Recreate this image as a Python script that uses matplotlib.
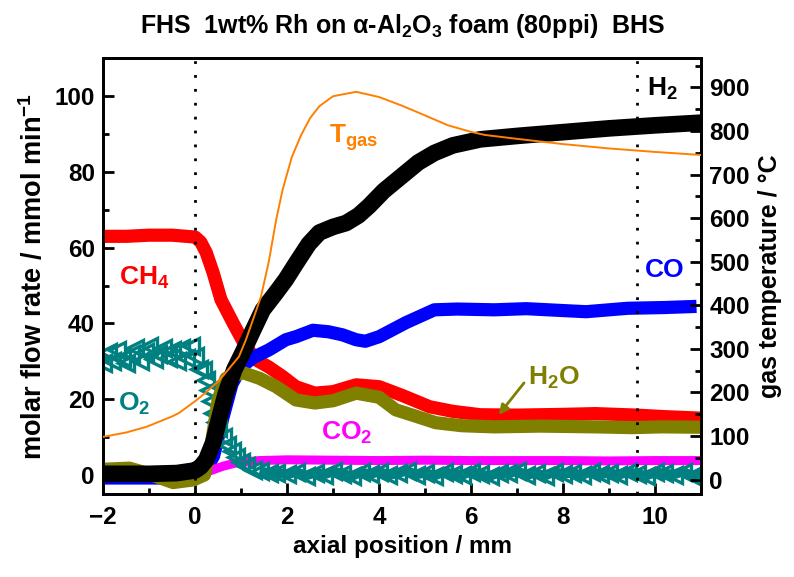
import numpy as np
import matplotlib
matplotlib.use('Agg')
import matplotlib.pyplot as plt
from matplotlib.ticker import MultipleLocator

# values
x_h2 = [-2, -1, -0.4, 0.0, 0.12, 0.24, 0.39, 0.53, 0.67, 0.85, 1.04, 1.25, 1.47, 1.75, 1.97, 2.2,
        2.47, 2.7, 3.0, 3.28, 3.55, 3.78, 4.1, 4.5, 4.85, 5.2, 5.6, 6.2, 7, 8, 9, 10, 11]
h2 = [0.3, 0.3, 0.5, 1.2, 2.2, 4.0, 8.5, 15.3, 21.7, 27.8, 32.5, 38, 43.6, 48, 51.6, 56,
      61, 64, 65.5, 66.5, 68.5, 71, 75, 79, 82.5, 85, 87, 88.6, 89.5, 90.5, 91.5, 92.3, 93]

x_ch4 = [-2, -1.5, -1, -0.5, 0.0, 0.12, 0.24, 0.39, 0.56, 0.82, 1.1, 1.32, 1.6, 1.9, 2.19, 2.6,
         3.0, 3.5, 4.0, 4.5, 5.1, 5.6, 6.2, 7, 8, 8.7, 9.6, 10.2, 11]
ch4 = [63, 63, 63.3, 63.3, 62.8, 61.5, 58.7, 53.4, 46.3, 40.2, 33.9, 30.4, 28.5, 26, 23.3, 21.6,
       22, 23.8, 23.3, 21, 18, 16.8, 15.9, 15.8, 16, 16.2, 15.8, 15.4, 15]

x_co = [-2, -1, 0.0, 0.2, 0.4, 0.6, 0.8, 1.0, 1.26, 1.6, 1.97, 2.19, 2.56, 2.9, 3.2, 3.5, 3.7, 4.0,
        4.58, 5.2, 5.7, 6.5, 7.2, 8.0, 8.5, 9.4, 10.2, 10.9]
co = [-0.8, -0.8, -0.8, 0.5, 5, 15, 24, 28.5, 31, 33, 35.7, 36.5, 38.2, 37.8, 37, 35.7, 35.3, 36.5,
      40.2, 43.6, 43.8, 43.6, 43.9, 43.4, 43.1, 44, 44.2, 44.5]

x_h2o = [-2, -1.43, -1.06, -0.48, -0.04, 0.2, 0.35, 0.5, 0.67, 1.04, 1.4, 1.76, 2.19, 2.6, 3.0,
         3.5, 4.0, 4.36, 4.8, 5.23, 5.8, 6.5, 7.5, 8.7, 9.5, 10.15, 11]
h2o = [1.5, 1.8, 0.5, -2, -1.3, 0, 8, 20, 25.5, 27, 25.5, 23.3, 19.8, 19, 19.6,
       21.6, 20.5, 17.2, 15.5, 13.8, 13, 12.7, 12.9, 12.7, 12.5, 12.7, 12.6]

x_co2 = [-2, -1, 0, 0.3, 0.6, 0.89, 1.39, 2, 3, 4, 5, 6, 7, 8, 9, 10, 11]
co2 = [0.6, 0.8, 0.6, 1.0, 2.3, 3.2, 3.8, 4, 3.9, 3.8, 3.9, 3.8, 3.8, 3.8, 3.7, 3.8, 3.8]

x_o2 = [-2.0, -1.9, -1.8, -1.7, -1.6, -1.5, -1.4, -1.3, -1.2, -1.1, -1.0, -0.9, -0.8, -0.7,
        -0.6, -0.5, -0.4, -0.3, -0.2, -0.1, 0.0, 0.08, 0.16, 0.23, 0.3, 0.35, 0.39, 0.45, 0.5,
        0.6, 0.7, 0.8, 0.89, 1.0, 1.1, 1.26, 1.4, 1.6, 1.76, 2.0, 2.2, 2.4, 2.6, 2.8, 3.0,
        3.2, 3.4, 3.6, 3.8, 4.0, 4.2, 4.4, 4.6, 4.8, 5.0, 5.2, 5.4, 5.6, 5.8, 6.0, 6.2, 6.4,
        6.6, 6.8, 7.0, 7.2, 7.4, 7.6, 7.8, 8.0, 8.2, 8.4, 8.6, 8.8, 9.0, 9.2, 9.4, 9.6, 9.8,
        10.0, 10.2, 10.4, 10.6, 10.8, 11.0]
o2 = [29.5, 32.5, 30, 33, 31, 29.5, 32, 33.5, 30, 32.5, 34, 30.5, 32, 33.5, 31, 33, 30, 33.5,
      31, 34, 31.5, 28, 27.8, 25, 22.5, 19.5, 16.4, 14, 12.5, 10, 8, 6.2, 4.8, 3.5, 2.5, 1.3,
      1.0, 0.5, 0.6, 0.2, 0.8, -0.2, 0.6, 0.1, 1.0, 0.3, -0.3, 0.7, 0.2, 0.9, -0.1, 0.5, 1.1,
      0.1, 0.6, -0.2, 0.8, 0.3, 0.0, 0.9, 0.2, -0.3, 0.6, 0.4, 1.0, 0.0, 0.5, -0.2, 0.8, 0.3,
      0.6, -0.1, 0.9, 0.2, 0.5, 0.0, 0.8, 0.3, -0.2, 0.7, 0.4, 0.1, 0.9, -0.2, 0.5]

x_t = [-2, -1.5, -1.06, -0.5, -0.35, 0.0, 0.2, 0.5, 0.7, 0.95, 1.1, 1.3, 1.43, 1.6, 1.76, 1.9,
       2.1, 2.3, 2.5, 2.7, 3.0, 3.5, 4.0, 4.5, 4.86, 5.5, 6.0, 6.3, 7, 8, 9, 10, 11]
t_gas = [98, 108, 121, 145, 153, 180, 197, 225, 250, 282, 320, 380, 420, 500, 596, 665,
         740, 790, 830, 857, 880, 890, 878, 858, 842, 813, 798, 791, 782, 770, 760, 752, 745]

plt.rcParams['font.family'] = 'Liberation Sans'
plt.rcParams['font.weight'] = 'bold'
plt.rcParams['mathtext.fontset'] = 'custom'
plt.rcParams['mathtext.rm'] = 'Liberation Sans:bold'
plt.rcParams['mathtext.bf'] = 'Liberation Sans:bold'
plt.rcParams['mathtext.it'] = 'Liberation Sans:bold'
plt.rcParams['mathtext.default'] = 'rm'

fig = plt.figure(figsize=(7.94, 5.77), dpi=100)
ax = fig.add_axes([0.130, 0.144, 0.753, 0.755])
ax2 = ax.twinx()

line_kw = dict(solid_capstyle='butt', solid_joinstyle='round')
ax.plot(x_ch4, ch4, color='#ff0000', lw=9.5, zorder=3, **line_kw)
ax.plot(x_co, co, color='#0000ff', lw=9.5, zorder=3, **line_kw)
ax.plot(x_co2, co2, color='#ff00ff', lw=6.5, zorder=3, **line_kw)
ax.plot(x_o2, o2, color='#008080', lw=0, marker='<', ms=11, mfc='none', mec='#008080', mew=2.4, zorder=4)
ax.plot(x_o2[36:], o2[36:], color='#008080', lw=7, zorder=4, **line_kw)
ax.plot(x_h2o, h2o, color='#808000', lw=9.5, zorder=5, **line_kw)
ax.plot(x_h2, h2, color='black', lw=12, zorder=6, **line_kw)

ax2.plot(x_t, t_gas, color='#ff8000', lw=1.4, zorder=7)

for xv in (0, 9.6):
    ax.axvline(xv, color='black', ls=(0, (1, 4)), lw=2, zorder=8)

ax.set_xlim(-2, 11)
ax.set_ylim(-5, 110)
ax2.set_ylim(-33, 967)

ax.xaxis.set_major_locator(MultipleLocator(2))
ax.xaxis.set_minor_locator(MultipleLocator(1))
ax.yaxis.set_major_locator(MultipleLocator(20))
ax.yaxis.set_minor_locator(MultipleLocator(10))
ax2.yaxis.set_major_locator(MultipleLocator(100))
ax2.yaxis.set_minor_locator(MultipleLocator(50))

for a in (ax, ax2):
    a.tick_params(which='major', direction='in', length=8, width=2, labelsize=17.5, pad=6)
    a.tick_params(which='minor', direction='in', length=4, width=2)
    for s in a.spines.values():
        s.set_linewidth(2)
ax.tick_params(axis='x', pad=9)
ax2.set_zorder(ax.get_zorder() + 1)
ax2.patch.set_visible(False)

ax.set_xlabel('axial position / mm', fontsize=17.5, fontweight='bold', labelpad=4)
ax.set_ylabel('molar flow rate / mmol min$^{-1}$', fontsize=19.5, fontweight='bold', labelpad=5)
ax2.set_ylabel('gas temperature / °C', fontsize=18, fontweight='bold', labelpad=6)
ax.set_title('FHS  1wt% Rh on α-Al$_2$O$_3$ foam (80ppi)  BHS', fontsize=18, fontweight='bold', pad=18)

lab = dict(fontsize=19, ha='center', va='center')
ax.text(-1.1, 52, 'CH$_4$', color='#ff0000', **lab)
ax.text(-1.32, 18.8, 'O$_2$', color='#008080', **lab)
ax.text(3.3, 11, 'CO$_2$', color='#ff00ff', **lab)
ax.text(3.45, 89, 'T$_{gas}$', color='#ff8000', **lab)
ax.text(10.15, 102, 'H$_2$', color='black', **lab)
ax.text(10.2, 54, 'CO', color='#0000ff', **lab)
ax.text(7.8, 25.5, 'H$_2$O', color='#808000', **lab)
ax.annotate('', xy=(6.6, 15.9), xytext=(7.15, 24.3),
            arrowprops=dict(arrowstyle='-|>', color='#808000', lw=2, shrinkA=0, shrinkB=0,
                            mutation_scale=14))

fig.savefig('out.png', dpi=100)
